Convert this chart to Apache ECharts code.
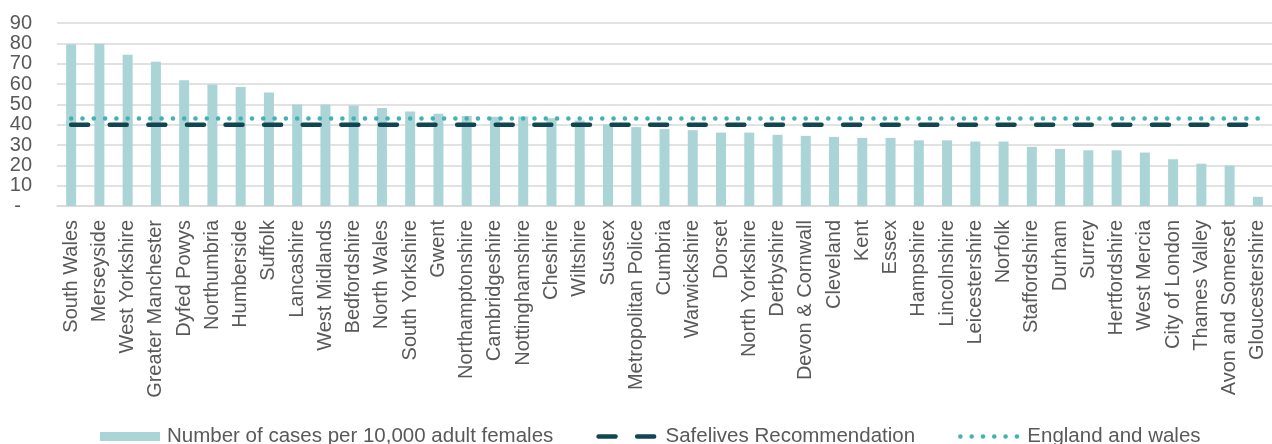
<!DOCTYPE html>
<html>
<head>
<meta charset="utf-8">
<script src="https://cdn.jsdelivr.net/npm/echarts@6/dist/echarts.min.js"></script>
<style>
  html, body { margin: 0; padding: 0; background: #ffffff; }
  #chart { width: 1272px; height: 444px; }
</style>
</head>
<body>
<div id="chart"></div>
<script>
// Police force areas, ordered by rate
const forces = [
  'South Wales', 'Merseyside', 'West Yorkshire', 'Greater Manchester', 'Dyfed Powys',
  'Northumbria', 'Humberside', 'Suffolk', 'Lancashire', 'West Midlands',
  'Bedfordshire', 'North Wales', 'South Yorkshire', 'Gwent', 'Northamptonshire',
  'Cambridgeshire', 'Nottinghamshire', 'Cheshire', 'Wiltshire', 'Sussex',
  'Metropolitan Police', 'Cumbria', 'Warwickshire', 'Dorset', 'North Yorkshire',
  'Derbyshire', 'Devon & Cornwall', 'Cleveland', 'Kent', 'Essex',
  'Hampshire', 'Lincolnshire', 'Leicestershire', 'Norfolk', 'Staffordshire',
  'Durham', 'Surrey', 'Hertfordshire', 'West Mercia', 'City of London',
  'Thames Valley', 'Avon and Somerset', 'Gloucestershire'
];

// Number of cases per 10,000 adult females
const casesPer10k = [
  79.5, 79.8, 74.4, 71.0, 61.8,
  59.7, 58.5, 55.8, 49.9, 49.9,
  49.4, 48.2, 46.5, 45.4, 44.3,
  43.9, 44.0, 43.1, 42.1, 40.2,
  38.8, 37.8, 37.3, 36.1, 36.1,
  35.0, 34.5, 34.0, 33.5, 33.5,
  32.3, 32.3, 31.7, 31.7, 29.1,
  28.1, 27.4, 27.4, 26.3, 23.0,
  20.8, 19.9, 4.5
];

// Reference levels
const safelivesRecommendation = 40;
const englandAndWales = 43;

// Value axis ticks
const yMin = 0;
const yMax = 90;
const yStep = 10;

const safelivesLine = forces.map(() => safelivesRecommendation);
const englandWalesLine = forces.map(() => englandAndWales);

const FONT = '"Liberation Sans", Arial, sans-serif';
const TEXT = '#595959';
const GRID = '#d9d9d9';
const BAR = '#abd4d7';
const DASH = '#0f4651';
const DOT = '#45b1b5';

const dashStyle = { color: DASH, width: 4.5, type: [17, 21.6], cap: 'round' };
const dotStyle = { color: DOT, width: 4.5, type: [0.1, 11.2], cap: 'round' };

const chart = echarts.init(document.getElementById('chart'), null, { renderer: 'canvas' });

chart.setOption({
  animation: false,
  textStyle: { fontFamily: FONT },
  grid: { left: 57, top: 23, width: 1222, height: 183, containLabel: false },
  legend: {
    left: 100,
    top: 426,
    padding: 0,
    itemGap: 43,
    itemWidth: 60,
    itemHeight: 9,
    textStyle: { fontFamily: FONT, fontSize: 20.5, lineHeight: 20, color: TEXT, padding: [0, 0, 0, 2] },
    data: [
      { name: 'Number of cases per 10,000 adult females', icon: 'rect' },
      { name: 'Safelives Recommendation', itemStyle: { opacity: 0 }, lineStyle: dashStyle },
      { name: 'England and wales', itemStyle: { opacity: 0 }, lineStyle: dotStyle }
    ]
  },
  xAxis: {
    type: 'category',
    data: forces,
    boundaryGap: true,
    axisLine: { show: true, lineStyle: { color: GRID, width: 1.5 } },
    axisTick: { show: false },
    axisLabel: {
      interval: 0,
      rotate: 90,
      margin: 14,
      fontFamily: FONT,
      fontSize: 20,
      color: TEXT
    }
  },
  yAxis: {
    type: 'value',
    min: yMin,
    max: yMax,
    interval: yStep,
    axisLine: { show: false },
    axisTick: { show: false },
    splitLine: { lineStyle: { color: GRID, width: 1.5 } },
    axisLabel: {
      margin: 25,
      fontFamily: FONT,
      fontSize: 20,
      color: TEXT,
      formatter: v => (v === 0 ? '-  ' : String(v))
    }
  },
  series: [
    {
      name: 'Number of cases per 10,000 adult females',
      type: 'bar',
      data: casesPer10k,
      barWidth: 10,
      itemStyle: { color: BAR }
    },
    {
      name: 'Safelives Recommendation',
      type: 'line',
      data: safelivesLine,
      symbol: 'none',
      color: DASH,
      lineStyle: dashStyle
    },
    {
      name: 'England and wales',
      type: 'line',
      data: englandWalesLine,
      symbol: 'none',
      color: DOT,
      lineStyle: dotStyle
    }
  ]
});
</script>
</body>
</html>
